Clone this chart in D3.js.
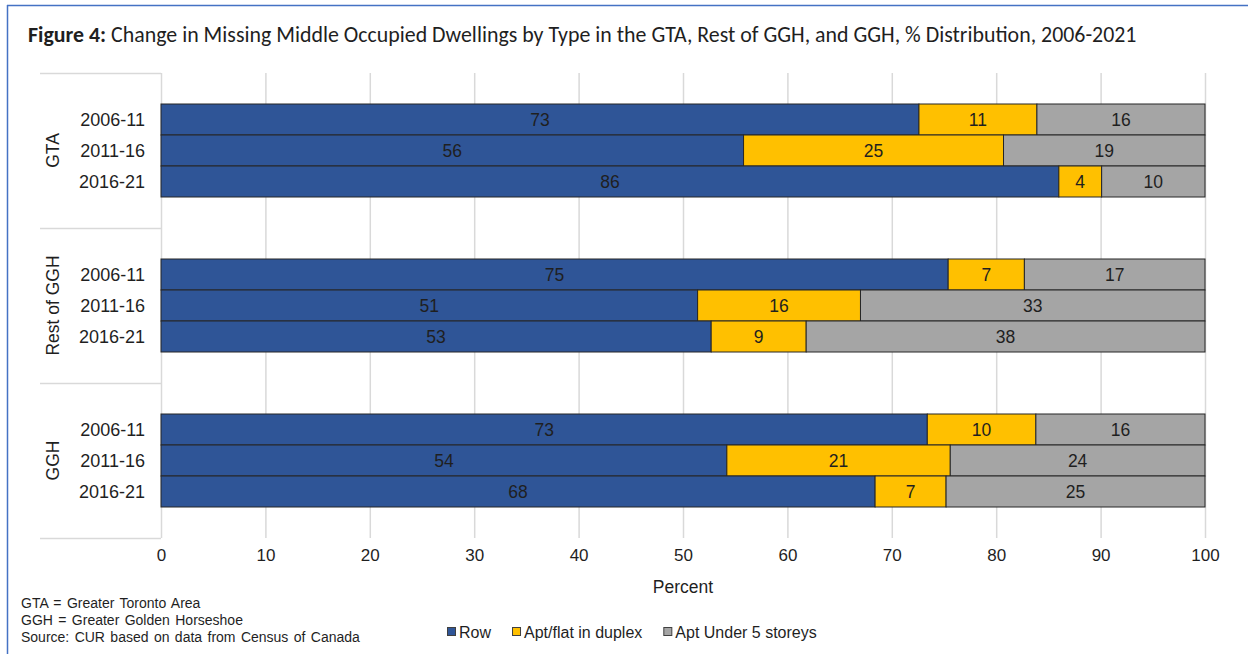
<!DOCTYPE html>
<html>
<head>
<meta charset="utf-8">
<script src="https://cdn.jsdelivr.net/npm/d3@7"></script>
<style>
  body { margin: 0; background: #fff; }
  svg text { font-family: "Liberation Sans", Arial, sans-serif; fill: #1f1f1f; }
</style>
</head>
<body>
<div id="chart"></div>
<script>
const regions = ['GTA', 'Rest of GGH', 'GGH'];
const periods = ['2006-11', '2011-16', '2016-21'];
const seriesNames = ['Row', 'Apt/flat in duplex', 'Apt Under 5 storeys'];
const seriesColors = ['#2F5597', '#FFC000', '#A5A5A5'];

// percent shares, one row per region + period (same order as regions x periods)
const rowShare  = [72.6, 55.8, 86.0, 75.4, 51.4, 52.7, 73.4, 54.2, 68.4];
const aptDuplex = [11.3, 24.9,  4.1,  7.3, 15.6,  9.1, 10.4, 21.4,  6.8];
const aptUnder5 = [16.1, 19.3,  9.9, 17.3, 33.0, 38.2, 16.2, 24.4, 24.8];

const xTicks = [0, 10, 20, 30, 40, 50, 60, 70, 80, 90, 100];
const footnotes = [
  'GTA = Greater Toronto Area',
  'GGH = Greater Golden Horseshoe',
  'Source: CUR based on data from Census of Canada'
];

const W = 1253, H = 654;
const plot = { left: 161, right: 1205, top: 73, bottom: 538, catLeft: 40 };

const svg = d3.select('#chart').append('svg')
  .attr('width', W).attr('height', H);

// frame (top + left edges visible)
svg.append('line').attr('x1', 7).attr('x2', 1248).attr('y1', 5.5).attr('y2', 5.5)
  .attr('stroke', '#4472C4').attr('stroke-width', 1.5);
svg.append('line').attr('x1', 7.5).attr('x2', 7.5).attr('y1', 5).attr('y2', H)
  .attr('stroke', '#4472C4').attr('stroke-width', 1.5);

// title
const title = svg.append('text').attr('x', 28).attr('y', 42)
  .style('font-family', 'Carlito, Calibri, Lato, "Open Sans", sans-serif')
  .style('font-size', '19px');
title.append('tspan').style('font-weight', 'bold').text('Figure 4:');
title.append('tspan').text(' Change in Missing Middle Occupied Dwellings by Type in the GTA, Rest of GGH, and GGH, % Distribution, 2006-2021');
const tw = title.node().getComputedTextLength();
title.style('font-size', (19 * 1109 / tw).toFixed(2) + 'px');

const x = d3.scaleLinear().domain([0, 100]).range([plot.left, plot.right]);
const yGroup = d3.scaleBand().domain(regions).range([plot.top, plot.bottom]).padding(0);
const yInner = d3.scaleBand().domain(periods).range([0, yGroup.bandwidth()])
  .paddingInner(0).paddingOuter(1);

// gridlines
svg.append('g')
  .selectAll('line').data(xTicks).enter().append('line')
  .attr('x1', d => x(d) + 0.5).attr('x2', d => x(d) + 0.5)
  .attr('y1', plot.top).attr('y2', plot.bottom)
  .attr('stroke', '#D9D9D9').attr('stroke-width', 1.5);

// x axis labels
const xAxis = svg.append('g').attr('transform', `translate(0,${plot.bottom + 11})`)
  .call(d3.axisBottom(x).tickValues(xTicks).tickSize(0).tickPadding(0));
xAxis.select('.domain').remove();
xAxis.selectAll('text').style('font-size', '17px').attr('dy', '0.71em')
  .style('font-family', '"Liberation Sans", Arial, sans-serif').attr('fill', '#1f1f1f');

svg.append('text').attr('x', (plot.left + plot.right) / 2).attr('y', 593)
  .attr('text-anchor', 'middle').style('font-size', '17.5px').text('Percent');

// category axis lines
const sepY = regions.map(r => yGroup(r)).concat([plot.bottom]);
svg.append('g').selectAll('line').data(sepY).enter().append('line')
  .attr('x1', plot.catLeft).attr('x2', plot.left)
  .attr('y1', d => d + 0.5).attr('y2', d => d + 0.5)
  .attr('stroke', '#D9D9D9').attr('stroke-width', 1.5);

// stacked rows
const rows = [];
regions.forEach((r, gi) => periods.forEach((p, pi) => {
  const i = gi * periods.length + pi;
  rows.push({ region: r, period: p, values: [rowShare[i], aptDuplex[i], aptUnder5[i]] });
}));

const segs = [];
rows.forEach(row => {
  let acc = 0;
  row.values.forEach((v, si) => {
    segs.push({ region: row.region, period: row.period, s: si, x0: acc, x1: acc + v, v });
    acc += v;
  });
});

const barY = d => yGroup(d.region) + yInner(d.period);

svg.append('g').selectAll('rect').data(segs).enter().append('rect')
  .attr('x', d => x(d.x0)).attr('y', barY)
  .attr('width', d => x(d.x1) - x(d.x0)).attr('height', yInner.bandwidth())
  .attr('fill', d => seriesColors[d.s])
  .attr('stroke', '#262626').attr('stroke-width', 1);

svg.append('g').selectAll('text').data(segs).enter().append('text')
  .attr('x', d => (x(d.x0) + x(d.x1)) / 2)
  .attr('y', d => barY(d) + yInner.bandwidth() / 2)
  .attr('dy', '0.36em').attr('text-anchor', 'middle')
  .style('font-size', '17.5px')
  .text(d => d3.format('.0f')(d.v));

// period labels
svg.append('g').selectAll('text').data(rows).enter().append('text')
  .attr('x', 145).attr('y', d => barY(d) + yInner.bandwidth() / 2)
  .attr('dy', '0.36em').attr('text-anchor', 'end')
  .style('font-size', '18px').text(d => d.period);

// region labels
svg.append('g').selectAll('text').data(regions).enter().append('text')
  .attr('transform', d => `translate(59,${yGroup(d) + yGroup.bandwidth() / 2}) rotate(-90)`)
  .attr('text-anchor', 'middle')
  .style('font-size', '17.5px').text(d => d);

// footnotes
svg.append('g').selectAll('text').data(footnotes).enter().append('text')
  .attr('x', 21).attr('y', (d, i) => 608 + i * 17)
  .style('font-size', '14px').style('word-spacing', '1.5px').text(d => d);

// legend
const legend = svg.append('g').attr('transform', 'translate(447,632)');
let lx = 0;
seriesNames.forEach((name, i) => {
  const g = legend.append('g').attr('transform', `translate(${lx},0)`);
  g.append('rect').attr('x', 0.5).attr('y', -4.5).attr('width', 8).attr('height', 8)
    .attr('fill', seriesColors[i]).attr('stroke', '#404040').attr('stroke-width', 1);
  const t = g.append('text').attr('x', 12).attr('dy', '0.36em')
    .style('font-size', '16px').text(name);
  lx += 12 + t.node().getComputedTextLength() + 21;
});
</script>
</body>
</html>
